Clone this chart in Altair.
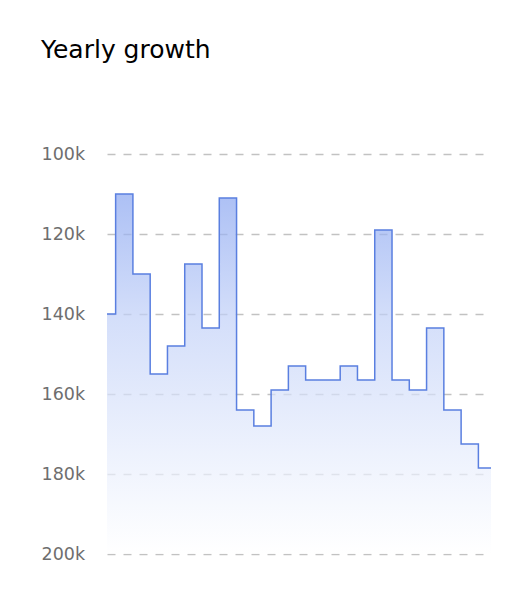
import altair as alt
import pandas as pd

# Values (in thousands)
values_k = [140, 110, 130, 155, 148, 127.5, 143.5, 111, 164, 168, 159, 153,
            156.5, 156.5, 153, 156.5, 119, 156.5, 159, 143.5, 164, 172.5, 178.5]
tick_values_k = [100, 120, 140, 160, 180, 200]

idx = list(range(len(values_k))) + [len(values_k)]
vals = [v * 1000 for v in values_k] + [values_k[-1] * 1000]
df = pd.DataFrame({"i": idx, "value": vals})

x = alt.X("i:Q", scale=alt.Scale(domain=[0, 22.23], nice=False, zero=False), axis=None)
y = alt.Y("value:Q",
          scale=alt.Scale(domain=[100000, 200000], reverse=True, nice=False, zero=False),
          axis=alt.Axis(values=[v * 1000 for v in tick_values_k],
                        labelExpr="datum.value / 1000 + 'k'",
                        title=None, domain=False, ticks=False, tickSize=0,
                        labelAlign="left", labelPadding=66, labelFlush=False,
                        labelFont="DejaVu Sans", labelFontSize=17.5, labelColor="#6e6e6e",
                        gridDash=[8, 8], gridColor="#c2c2c2", gridWidth=1.4))

area = alt.Chart(df).mark_area(
    interpolate="step",
    clip=True,
    line={"color": "#5a7fe0", "strokeWidth": 1.5},
    color=alt.Gradient(
        gradient="linear",
        stops=[alt.GradientStop(color="#89a5f0", offset=0),
               alt.GradientStop(color="#c2d1f8", offset=0.35),
               alt.GradientStop(color="#e4ebfc", offset=0.7),
               alt.GradientStop(color="#ffffff", offset=1)],
        x1=1, x2=1, y1=0, y2=1,
    ),
).encode(x=x, y=y, y2=alt.datum(200000))

chart = area.properties(
    width=384,
    height=400,
    autosize=alt.AutoSizeParams(type="none"),
    padding={"left": 99, "top": 146, "right": 33, "bottom": 42},
    title=alt.TitleParams("Yearly growth", anchor="start", frame="group",
                          font="DejaVu Sans", fontSize=25, fontWeight="normal",
                          color="#000000", dx=-66, offset=82),
).configure_view(stroke=None)

chart.save("out.html", embed_options={"renderer": "svg", "actions": False})
